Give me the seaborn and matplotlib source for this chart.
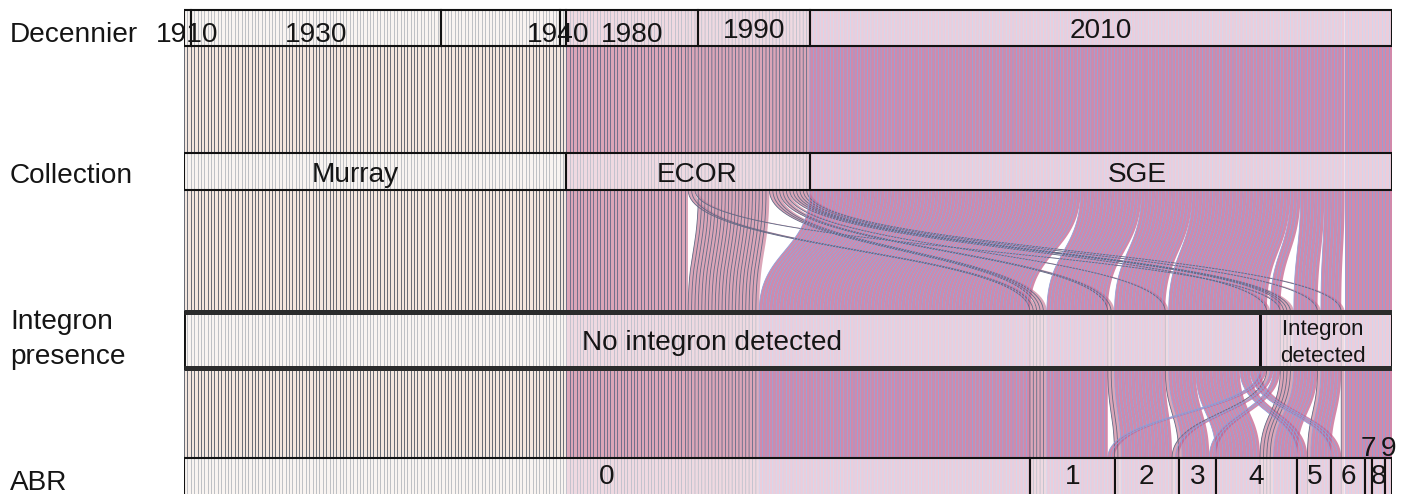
import numpy as np
import pandas as pd
import matplotlib
matplotlib.use("Agg")
import matplotlib.pyplot as plt
from matplotlib.collections import PolyCollection
from matplotlib.patches import Rectangle
import seaborn as sns

# ---------------------------------------------------------------- categories
dimensions = ["Decennier", "Collection", "Integron\npresence", "ABR"]
decades = ["1910", "1930", "", "1940", "1980", "1990", "2010"]
collections = ["Murray", "ECOR", "SGE"]
integron_states = ["No integron detected", "Integron\ndetected"]
abr_levels = ["0", "1", "2", "3", "4", "5", "6", "7", "8", "9"]

# ------------------------------------------- strains per combination of values
# (indices into the category lists above)
combo_decade = [0, 1, 2, 3,
                4, 4, 4,
                5, 5, 5, 5, 5, 5, 5, 5,
                6, 6, 6, 6, 6, 6, 6,
                6, 6, 6, 6, 6, 6, 6, 6, 6]
combo_collection = [0, 0, 0, 0,
                    1, 1, 1,
                    1, 1, 1, 1, 1, 1, 1, 1,
                    2, 2, 2, 2, 2, 2, 2,
                    2, 2, 2, 2, 2, 2, 2, 2, 2]
combo_integron = [0, 0, 0, 0,
                  0, 0, 1,
                  0, 0, 0, 0, 1, 1, 1, 1,
                  0, 0, 0, 0, 0, 0, 0,
                  1, 1, 1, 1, 1, 1, 1, 1, 1]
combo_abr = [0, 0, 0, 0,
             0, 1, 4,
             0, 1, 2, 3, 2, 4, 5, 6,
             0, 1, 2, 3, 4, 5, 6,
             1, 2, 3, 4, 5, 6, 7, 8, 9]
combo_count = [2, 74, 35, 2,
               36, 2, 1,
               21, 3, 2, 1, 1, 3, 1, 1,
               80, 18, 15, 8, 13, 3, 3,
               2, 1, 2, 7, 6, 6, 2, 4, 2]

# ------------------------------------------------------------------- styling
ribbon_fill = {0: "#efded3", 1: "#cf88a0", 2: "#c4618e"}
ribbon_edge = {"Murray": "#4f5662", "ECOR": "#5f6884", "SGE": "#8ea2da"}
W, H = 1406, 494
plot_left, plot_right = 184, 1392
bar_top = [10, 153, 312, 458]
bar_bot = [46, 190, 368, 520]
row_center = [28, 171.5, 340, 473.5]
FONT = 20.2
# per-label offsets in pixels (dx, dy)
label_nudge = {"1910": (0, 3.5), "1930": (0, 3.5), "1940": (-5, 3.5),
               "1980": (0, 3.5), "Murray": (-20, 0), "ECOR": (9, 0),
               "SGE": (36, 0), "No integron detected": (-10, 0),
               "Integron\ndetected": (-3, 0)}

sns.set_theme(style="white")
plt.rcParams["font.family"] = ["Liberation Sans", "DejaVu Sans"]

# ------------------------------------------------------ one row per strain
combos = pd.DataFrame({"decade": combo_decade, "collection": combo_collection,
                       "integron": combo_integron, "abr": combo_abr,
                       "n": combo_count})
strains = combos.loc[combos.index.repeat(combos["n"])].reset_index(drop=True)
strains["id"] = np.arange(len(strains))
N = len(strains)
dim_cols = ["decade", "collection", "integron", "abr"]
dim_labels = [decades, collections, integron_states, abr_levels]

# slot of every strain along each axis
sort_keys = [["decade", "collection", "integron", "abr"],
             ["collection", "decade", "integron", "abr"],
             ["integron", "abr", "collection", "decade"],
             ["abr", "integron", "collection", "decade"]]
pos = np.zeros((4, N))
for k, keys in enumerate(sort_keys):
    order = strains.sort_values(keys + ["id"], kind="mergesort")["id"].to_numpy()
    pos[k, order] = np.arange(N)

# ----------------------------------------------------------- ribbon geometry
t = np.linspace(0, 1, 60)
ease_x = 3 * t**2 - 2 * t**3
ease_y = 1.5 * t * (1 - t) + t**3


def edge_path(i):
    xs, ys = [], []
    for k in range(4):
        xs += [pos[k, i], pos[k, i]]
        ys += [bar_top[k], bar_bot[k]]
        if k < 3:
            x0, x1 = pos[k, i], pos[k + 1, i]
            y0, y1 = bar_bot[k], bar_top[k + 1]
            xs += list(x0 + (x1 - x0) * ease_x[1:-1])
            ys += list(y0 + (y1 - y0) * ease_y[1:-1])
    return np.array(xs), np.array(ys)


fig = plt.figure(figsize=(W / 100, H / 100), dpi=100)
ax = fig.add_axes([plot_left / W, 0, (plot_right - plot_left) / W, 1])

polys, fills, rows = [], [], []
for i in range(N):
    xs, ys = edge_path(i)
    poly = np.column_stack([np.r_[xs, xs[::-1] + 1], np.r_[ys, ys[::-1]]])
    polys.append(poly)
    fills.append(ribbon_fill[strains.at[i, "collection"]])
    rows.append(pd.DataFrame({"strain": i, "x": xs, "y": ys,
                              "collection": collections[strains.at[i, "collection"]]}))

ax.add_collection(PolyCollection(polys, facecolors=fills, edgecolors="none",
                                 alpha=0.75, zorder=1))

edges = pd.concat(rows, ignore_index=True)
sns.lineplot(data=edges, x="x", y="y", units="strain", estimator=None,
             sort=False, hue="collection", palette=ribbon_edge,
             linewidth=0.6, legend=False, ax=ax, zorder=2)


def put_text(x, center, text, size, spacing, where, **kw):
    """Write (possibly multi-line) text with its capitals centred on `center`."""
    lines = text.split("\n")
    cap = 0.72 * size * 100 / 72
    for j, line in enumerate(lines):
        base = center + cap / 2 + (j - (len(lines) - 1) / 2) * spacing
        if where is None:
            ax.text(x, base, line, ha="center", va="baseline", fontsize=size,
                    color="#151515", zorder=5, **kw)
        else:
            fig.text(x, 1 - base / H, line, ha="left", va="baseline",
                     fontsize=size, color="#151515", **kw)


# ------------------------------------------------------ category boxes
px = N / (plot_right - plot_left)
for k, col in enumerate(dim_cols):
    counts = strains[col].value_counts().sort_index()
    start = 0
    for cat, c in counts.items():
        ax.add_patch(Rectangle((start, bar_top[k]), c, bar_bot[k] - bar_top[k],
                               facecolor=(1, 1, 1, 0.58), edgecolor="#111111",
                               lw=2.1 if k == 2 else 1.5, zorder=3))
        label = dim_labels[k][cat]
        dx, dy = label_nudge.get(label, (0, 0))
        cx = start + c / 2 + dx * px
        cy = row_center[k] + dy
        size, spacing = FONT, 35
        if label == "Integron\ndetected":
            size, spacing = 16, 27
        if k == 3 and c <= 2:
            cy = bar_top[k] - 12
        put_text(cx, cy, label, size, spacing, None)
        start += c

ax.hlines([bar_top[2], bar_bot[2]], 0, N, colors="#2b2b2b", lw=3.6, zorder=4)

# ------------------------------------------------------ dimension names
name_center = [32, 173, 336.5, 479.5]
for name, y in zip(dimensions, name_center):
    put_text(10 / W, y, name, FONT, 35, "fig")

ax.set_xlim(0, N)
ax.set_ylim(H, 0)
ax.axis("off")
fig.savefig("out.png", dpi=100)
